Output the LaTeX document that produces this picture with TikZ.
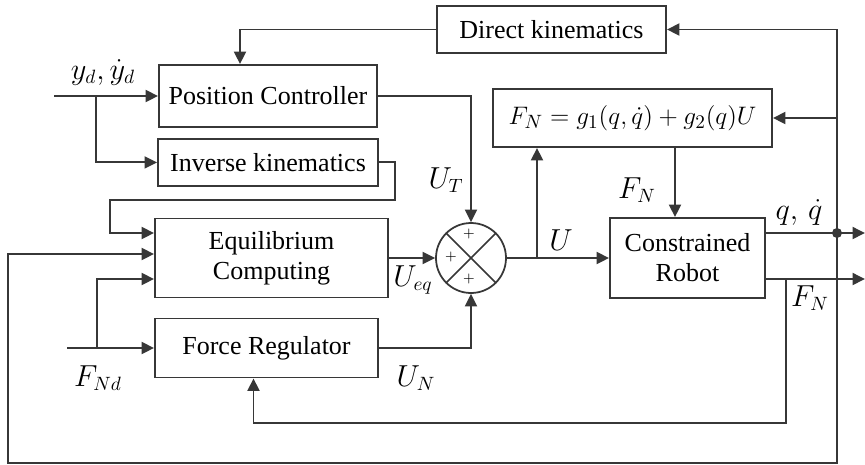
\documentclass[tikz,border=0pt]{standalone}
\usepackage{fontspec}
\setmainfont{Liberation Serif}
\usetikzlibrary{positioning,arrows.meta}
\definecolor{Clinha}{RGB}{55,55,55}

\begin{document}
\begin{tikzpicture}[x=0.2mm, y=-0.2mm,
    font=\fontsize{14.8}{17}\selectfont,
    blk/.style={draw=Clinha, line width=1.1pt, align=center, inner sep=2pt},
    arr/.style={-{Triangle[length=2.5mm,width=2.4mm]}, Clinha, line width=1.1pt},
    lnk/.style={Clinha, line width=1pt},
    sig/.style={font=\fontsize{16}{19}\selectfont, inner sep=1pt}]
  \useasboundingbox (0,0) rectangle (865,465);

  % blocks
  \node[blk, minimum width=45.8mm, minimum height=9.4mm] (DK) at (551.5,29.5) {Direct kinematics};
  \node[blk, minimum width=43.6mm, minimum height=12.4mm] (PC) at (268,96) {Position Controller};
  \node[blk, minimum width=44mm, minimum height=9.4mm, below=2mm of PC] (IK) {Inverse kinematics};
  \node[blk, minimum width=46.6mm, minimum height=15.8mm] (EC) at (271.5,258) {Equilibrium\\Computing};
  \node[blk, minimum width=44.6mm, minimum height=11.8mm] (FR) at (266.5,348) {Force Regulator};
  \node[blk, minimum width=31mm, minimum height=16mm] (CR) at (687.5,258) {Constrained\\Robot};
  \node[blk, minimum width=55.8mm, minimum height=11.6mm, font=\fontsize{15.2}{18}\selectfont] (Eq) at (632.5,118) {$F_N = g_1(q,\dot{q}) + g_2(q)U$};

  % summing junction
  \node[circle, draw=Clinha, line width=1pt, minimum size=14mm, inner sep=0pt] (sum) at (471,258) {};
  \draw[lnk] (sum.north east) -- (sum.south west) (sum.north west) -- (sum.south east);
  \node[font=\footnotesize] (pt) at (469,234) {$+$};
  \node[font=\footnotesize] (pl) at (451,257) {$+$};
  \node[font=\footnotesize] (pb) at (469,279) {$+$};

  % inputs, outputs and branch points
  \coordinate (yin) at (54,96);
  \coordinate (ybr) at (96,96);
  \coordinate (fin) at (67,348);
  \coordinate (fbr) at (97,348);
  \coordinate (qdot) at (837,233);
  \coordinate (qout) at (865,233);
  \coordinate (fout) at (865,279);
  \coordinate (fnb) at (786,279);
  \coordinate (ubr) at (537,258);
  \coordinate (fnx) at (675,0);

  % connectors
  \draw[arr] (DK.west) -| ([xshift=-5.6mm]PC.north);
  \draw[arr] (yin) -- (PC.west);
  \draw[arr] (ybr) |- (IK.west);
  \draw[arr] (PC.east) -| (sum.north);
  \draw[arr] (IK.east) -- ++(16,0) |- (110,200) |- ([yshift=5mm]EC.west);
  \draw[arr] (fin) -- (FR.west);
  \draw[arr] (fbr) |- ([yshift=-4.2mm]EC.west);
  \draw[arr] (EC.east) -- (sum.west);
  \draw[arr] (FR.east) -| (sum.south);
  \draw[arr] (sum.east) -- (CR.west);
  \draw[arr] (ubr) -- (ubr |- Eq.south);
  \draw[arr] (Eq.south -| fnx) -- (CR.north -| fnx);
  \draw[arr] ([yshift=5mm]CR.east) -- (qout);
  \draw[arr] ([yshift=-4.2mm]CR.east) -- (fout);
  \draw[arr] (fnb) -- (786,423) -| ([xshift=-2.6mm]FR.south);
  \draw[arr] (qdot) |- (DK.east);
  \draw[arr] (qdot |- Eq.east) -- (Eq.east);
  \draw[arr] (qdot) |- (8,463) |- ([yshift=0.8mm]EC.west);
  \fill[Clinha] (qdot) circle (1mm);

  % signal labels
  \node[sig] (lyd) at (103,72) {$y_d,\dot{y}_d$};
  \node[sig] (lut) at (446,180) {$U_T$};
  \node[sig] (lueq) at (413,280) {$U_{eq}$};
  \node[sig] (lun) at (416,378) {$U_N$};
  \node[sig] (lfnd) at (98,378) {$F_{Nd}$};
  \node[sig] (lu) at (561,240) {$U$};
  \node[sig] (lfn1) at (637,190) {$F_N$};
  \node[sig] (lqq) at (799,212) {$q,\,\dot{q}$};
  \node[sig] (lfn2) at (810,298) {$F_N$};
\end{tikzpicture}
\end{document}
